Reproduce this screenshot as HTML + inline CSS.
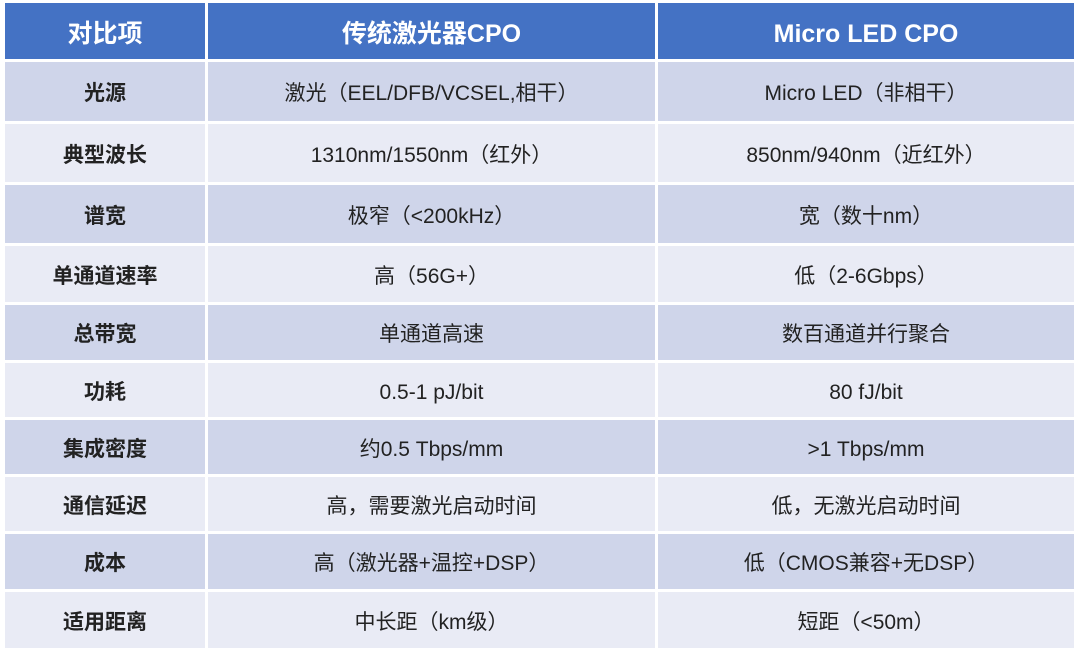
<!DOCTYPE html>
<html><head><meta charset="utf-8"><style>
body{margin:0;width:1080px;height:653px;background:#fff;position:relative;overflow:hidden;font-family:"Liberation Sans","Noto Sans CJK SC",sans-serif}
.c{position:absolute;display:flex;align-items:center;justify-content:center;font-size:21px;line-height:24px;color:#222;box-sizing:border-box;padding-top:5px}
.c span{display:block;line-height:24px;height:24px}
.h{background:#4472c4;color:#fff;font-weight:bold;font-size:25px}
.h span{line-height:28px;height:28px}
.d{background:#cfd5ea}.l{background:#e9ebf5}
.b{font-weight:bold}
</style></head><body>
<div class="c h" style="left:5px;top:3px;width:200px;height:56px"><span>对比项</span></div>
<div class="c h" style="left:208px;top:3px;width:447px;height:56px"><span>传统激光器CPO</span></div>
<div class="c h" style="left:658px;top:3px;width:416px;height:56px"><span>Micro LED CPO</span></div>
<script>
var rows=[
["光源","激光（EEL/DFB/VCSEL,相干）","Micro LED（非相干）",62,59],
["典型波长","1310nm/1550nm（红外）","850nm/940nm（近红外）",124,58],
["谱宽","极窄（<200kHz）","宽（数十nm）",185,58],
["单通道速率","高（56G+）","低（2-6Gbps）",246,56],
["总带宽","单通道高速","数百通道并行聚合",305,55],
["功耗","0.5-1 pJ/bit","80 fJ/bit",363,54],
["集成密度","约0.5 Tbps/mm",">1 Tbps/mm",420,54],
["通信延迟","高，需要激光启动时间","低，无激光启动时间",477,54],
["成本","高（激光器+温控+DSP）","低（CMOS兼容+无DSP）",534,55],
["适用距离","中长距（km级）","短距（<50m）",592,56]];
var h="";
rows.forEach(function(r,i){var k=i%2==0?"d":"l";
function e(s){return '<span>'+s.replace(/</g,"&lt;").replace(/>/g,"&gt;")+'</span>'}
h+='<div class="c b '+k+'" style="left:5px;top:'+r[3]+'px;width:200px;height:'+r[4]+'px">'+e(r[0])+'</div>';
h+='<div class="c '+k+'" style="left:208px;top:'+r[3]+'px;width:447px;height:'+r[4]+'px">'+e(r[1])+'</div>';
h+='<div class="c '+k+'" style="left:658px;top:'+r[3]+'px;width:416px;height:'+r[4]+'px">'+e(r[2])+'</div>';});
document.write(h);
</script>
</body></html>
